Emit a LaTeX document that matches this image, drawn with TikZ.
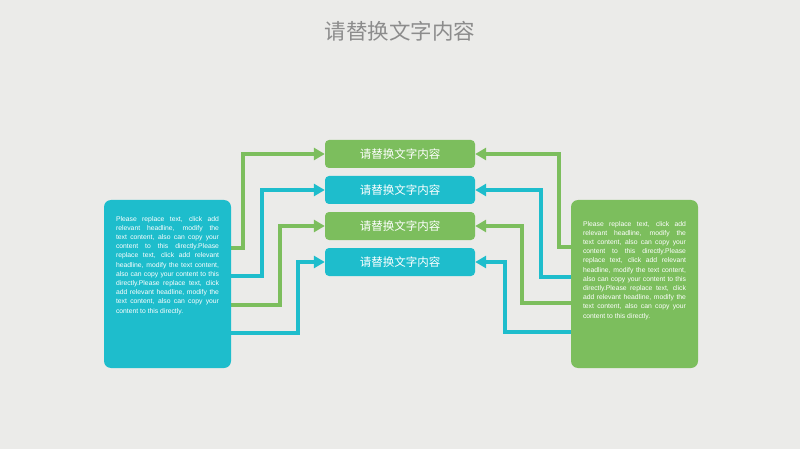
\documentclass[tikz,border=0pt]{standalone}
\usepackage{fontspec}
\setmainfont{Liberation Sans}
\newfontfamily\cjk{Noto Sans CJK SC}
\usetikzlibrary{arrows.meta}
\definecolor{bg}{HTML}{EBEBE9}
\definecolor{tealc}{HTML}{1EBDCC}
\definecolor{greenc}{HTML}{7CBE5D}
\definecolor{titlec}{HTML}{8C8C8C}
\newcommand\mynohyph{\hyphenchar\font=-1\relax\lefthyphenmin=62\relax\righthyphenmin=62\relax\emergencystretch=20pt\relax}
\begin{document}
\begin{tikzpicture}[x=1pt,y=-1pt,
 lbl/.style={rounded corners=4pt, minimum width=150pt, minimum height=28pt, inner sep=0pt, text=white, font=\cjk\fontsize{11.5}{12}\selectfont},
 side/.style={rounded corners=7pt, minimum width=127pt, minimum height=168pt, inner sep=0pt},
 body/.style={text=white, text width=103pt, align=justify, font=\fontsize{6.8}{9.2}\selectfont, inner sep=0pt, anchor=north},
 conn/.style={line width=4pt, -{Triangle[length=11pt,width=12pt]}},
]
\fill[bg] (0,0) rectangle (800,449);
\useasboundingbox (0,0) rectangle (800,449);
\node[text=titlec, font=\cjk\fontsize{21.5}{24}\selectfont] (title) at (400,31) {请替换文字内容};

% center boxes
\path (400,154) node[lbl, fill=greenc] (b1) {请替换文字内容};
\path (400,190) node[lbl, fill=tealc] (b2) {请替换文字内容};
\path (400,226) node[lbl, fill=greenc] (b3) {请替换文字内容};
\path (400,262) node[lbl, fill=tealc] (b4) {请替换文字内容};

% anchor coordinates on side boxes
\coordinate (l1) at (225,248);
\coordinate (l2) at (225,276);
\coordinate (l3) at (225,305);
\coordinate (l4) at (225,333);
\coordinate (r1) at (577,247);
\coordinate (r2) at (577,277);
\coordinate (r3) at (577,303);
\coordinate (r4) at (577,332);

% left arrows
\draw[conn, greenc] (l1) -- (243,248) |- (b1.west);
\draw[conn, tealc]  (l2) -- (262,276) |- (b2.west);
\draw[conn, greenc] (l3) -- (280,305) |- (b3.west);
\draw[conn, tealc]  (l4) -- (298,333) |- (b4.west);
% right arrows
\draw[conn, greenc] (r1) -- (559,247) |- (b1.east);
\draw[conn, tealc]  (r2) -- (541,277) |- (b2.east);
\draw[conn, greenc] (r3) -- (522,303) |- (b3.east);
\draw[conn, tealc]  (r4) -- (505,332) |- (b4.east);

% side boxes
\node[side, fill=tealc] (L) at (167.5,284) {};
\node[side, fill=greenc] (R) at (634.5,284) {};
\node[body] (Lt) at (167.5,216) {\mynohyph Please replace text, click add relevant headline, modify the text content, also can copy your content to this directly.Please replace text, click add relevant headline, modify the text content, also can copy your content to this directly.Please replace text, click add relevant headline, modify the text content, also can copy your content to this directly.};
\node[body] (Rt) at (634.5,221) {\mynohyph Please replace text, click add relevant headline, modify the text content, also can copy your content to this directly.Please replace text, click add relevant headline, modify the text content, also can copy your content to this directly.Please replace text, click add relevant headline, modify the text content, also can copy your content to this directly.};
\end{tikzpicture}
\end{document}
